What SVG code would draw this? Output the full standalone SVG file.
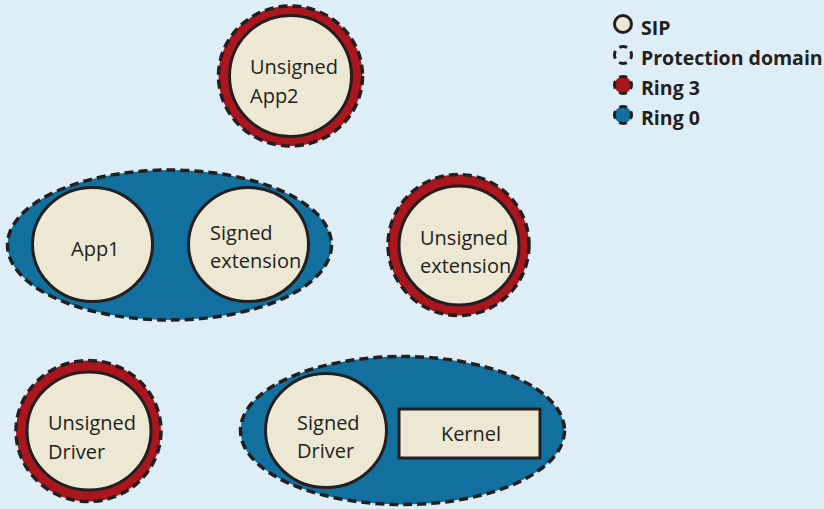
<svg xmlns="http://www.w3.org/2000/svg" width="824" height="509" viewBox="0 0 824 509">
<style>
.bg{fill:#deeef6}
.sip{fill:#ece8d4;stroke:#231f20;stroke-width:3}
.ring3{fill:#ab161e;stroke:#231f20;stroke-width:3.5;stroke-dasharray:9 5}
.ring0{fill:#11709e;stroke:#231f20;stroke-width:3.5;stroke-dasharray:9 5}
.pd{fill:none;stroke:#231f20;stroke-width:2.5}
.ic{stroke-width:3;stroke-dasharray:8 5.35;stroke-dashoffset:4}
.t{font-family:"Open Sans","DejaVu Sans",sans-serif;font-size:20px;fill:#231f20}
.lt{font-family:"Open Sans","DejaVu Sans",sans-serif;font-size:19.5px;font-weight:bold;fill:#231f20}
</style>
<rect class="bg" x="0" y="0" width="824" height="509"/>
<g id="connectors"/>
<g id="unsigned-app2">
<ellipse class="ring3" cx="290.5" cy="76" rx="72" ry="70"/>
<ellipse class="sip" cx="290.5" cy="76" rx="61" ry="60.5"/>
<text class="t" x="250" y="74">Unsigned</text>
<text class="t" x="250" y="103">App2</text>
</g>
<g id="domain-app1">
<ellipse class="ring0" cx="169.5" cy="245" rx="162" ry="75"/>
<g id="app1">
<ellipse class="sip" cx="92.5" cy="244.5" rx="60" ry="57"/>
<text class="t" x="71" y="256">App1</text>
</g>
<g id="signed-extension">
<ellipse class="sip" cx="248.5" cy="244.5" rx="60" ry="57"/>
<text class="t" x="210" y="240">Signed</text>
<text class="t" x="210" y="268">extension</text>
</g>
</g>
<g id="unsigned-extension">
<ellipse class="ring3" cx="458.5" cy="245" rx="70.5" ry="70.5"/>
<ellipse class="sip" cx="459" cy="245.5" rx="60" ry="59.5"/>
<text class="t" x="420" y="245">Unsigned</text>
<text class="t" x="420" y="273">extension</text>
</g>
<g id="unsigned-driver">
<ellipse class="ring3" cx="88.5" cy="431" rx="72.5" ry="70.5"/>
<ellipse class="sip" cx="89" cy="431" rx="62" ry="59"/>
<text class="t" x="48" y="430">Unsigned</text>
<text class="t" x="48" y="459">Driver</text>
</g>
<g id="domain-kernel">
<ellipse class="ring0" cx="402.5" cy="430.5" rx="162" ry="74"/>
<g id="signed-driver">
<ellipse class="sip" cx="326" cy="430.5" rx="60.5" ry="57"/>
<text class="t" x="297" y="430">Signed</text>
<text class="t" x="297" y="458">Driver</text>
</g>
<g id="kernel">
<rect class="sip" x="399" y="409" width="141" height="49"/>
<text class="t" x="471" y="441" text-anchor="middle">Kernel</text>
</g>
</g>
<g id="legend">
<circle class="sip" cx="623" cy="24" r="8.5"/>
<text class="lt" x="641" y="35">SIP</text>
<circle class="pd ic" cx="623" cy="55" r="8.5"/>
<text class="lt" x="641" y="65">Protection domain</text>
<circle class="ring3 ic" cx="623" cy="85" r="8.5"/>
<text class="lt" x="641" y="95">Ring 3</text>
<circle class="ring0 ic" cx="623" cy="115" r="8.5"/>
<text class="lt" x="641" y="125">Ring 0</text>
</g>
</svg>
